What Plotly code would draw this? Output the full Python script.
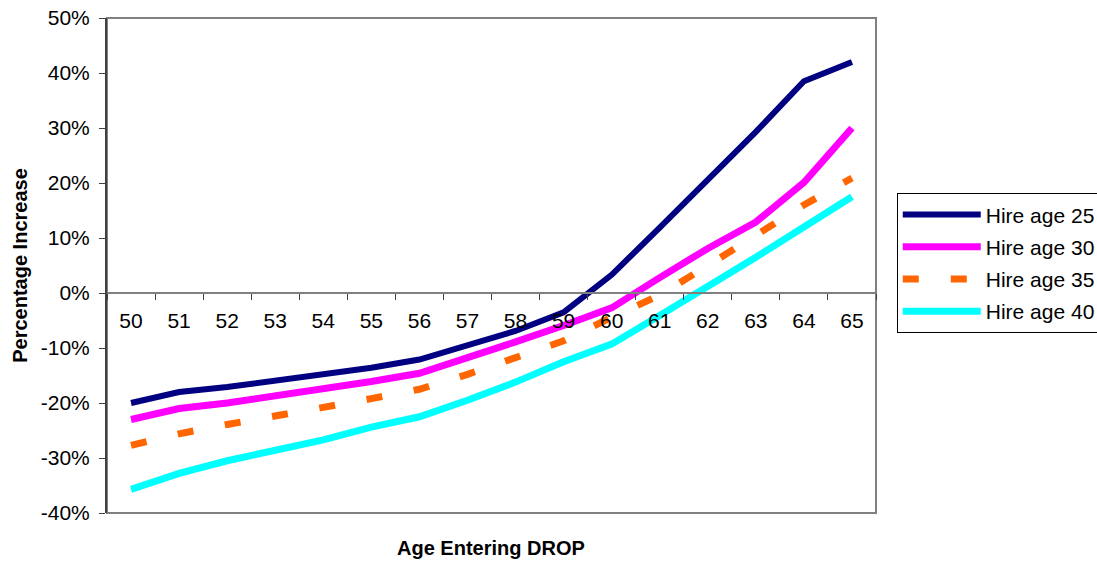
import plotly.graph_objects as go

ages = ["50", "51", "52", "53", "54", "55", "56", "57", "58", "59", "60", "61", "62", "63", "64", "65"]
hire25 = [-20.0, -18.0, -17.1, -15.9, -14.8, -13.6, -12.1, -9.5, -6.9, -3.5, 3.3, 11.9, 20.5, 29.3, 38.5, 42.0]
hire30 = [-23.0, -21.0, -20.0, -18.8, -17.4, -16.1, -14.6, -11.9, -8.9, -5.9, -2.7, 2.8, 8.1, 12.9, 20.1, 30.0]
hire35 = [-27.7, -25.6, -23.9, -22.5, -20.8, -19.2, -17.5, -14.8, -11.7, -8.7, -4.4, -0.4, 5.0, 10.5, 16.0, 20.9]
hire40 = [-35.7, -32.8, -30.5, -28.6, -26.7, -24.4, -22.5, -19.5, -16.2, -12.5, -9.3, -4.1, 1.1, 6.5, 12.0, 17.5]

y_tickvals = [-40, -30, -20, -10, 0, 10, 20, 30, 40, 50]
y_ticktext = ["-40%", "-30%", "-20%", "-10%", "0%", "10%", "20%", "30%", "40%", "50%"]

series = [
    ("Hire age 25", hire25, "#000080", "solid", 6),
    ("Hire age 30", hire30, "#FF00FF", "solid", 7),
    ("Hire age 35", hire35, "#FF6600", "16px,32px", 7),
    ("Hire age 40", hire40, "#00FFFF", "solid", 7),
]

FONT = "Liberation Sans, Arial, sans-serif"
FS = 21

fig = go.Figure()
for name, vals, color, dash, w in series:
    fig.add_trace(go.Scatter(
        x=ages, y=vals, mode="lines", name=name, legendgroup=name,
        line=dict(color=color, width=w, dash=dash),
    ))

fig.update_layout(
    width=1097, height=561,
    margin=dict(l=107, r=221, t=18, b=48, autoexpand=False),
    paper_bgcolor="white", plot_bgcolor="white",
    font=dict(family=FONT, size=FS, color="black"),
    showlegend=True,
    legend=dict(
        x=1.027, y=0.646, xanchor="left", yanchor="top",
        bordercolor="black", borderwidth=1, bgcolor="white",
        font=dict(size=FS, family=FONT, color="black"),
        itemwidth=78, tracegroupgap=2,
    ),
    xaxis=dict(
        type="category", range=[-0.5, 15.5], tickson="boundaries",
        anchor="free", position=40/90,
        showline=True, linecolor="#808080", linewidth=2,
        ticks="outside", ticklen=6, tickcolor="#404040", tickwidth=1,
        ticklabelstandoff=9,
        showgrid=False, zeroline=False,
        tickfont=dict(size=FS, family=FONT, color="black"),
    ),
    yaxis=dict(
        range=[-40, 50], tickmode="array", tickvals=y_tickvals, ticktext=y_ticktext,
        showline=True, linecolor="#404040", linewidth=2,
        ticks="outside", ticklen=6, tickcolor="#404040", tickwidth=1,
        ticklabelstandoff=5,
        showgrid=False, zeroline=False,
        tickfont=dict(size=FS, family=FONT, color="black"),
        title=dict(text="<b>Percentage Increase</b>", font=dict(size=20, family=FONT), standoff=8),
    ),
    shapes=[dict(type="rect", xref="paper", yref="paper", x0=0, y0=0, x1=1, y1=1,
                 line=dict(color="#808080", width=2), layer="below")],
    annotations=[dict(text="<b>Age Entering DROP</b>", xref="paper", yref="paper",
                      x=0.499, y=-0.071, xanchor="center", yanchor="middle", showarrow=False,
                      font=dict(size=20, family=FONT, color="black"))],
)

fig.write_html("out.html")
